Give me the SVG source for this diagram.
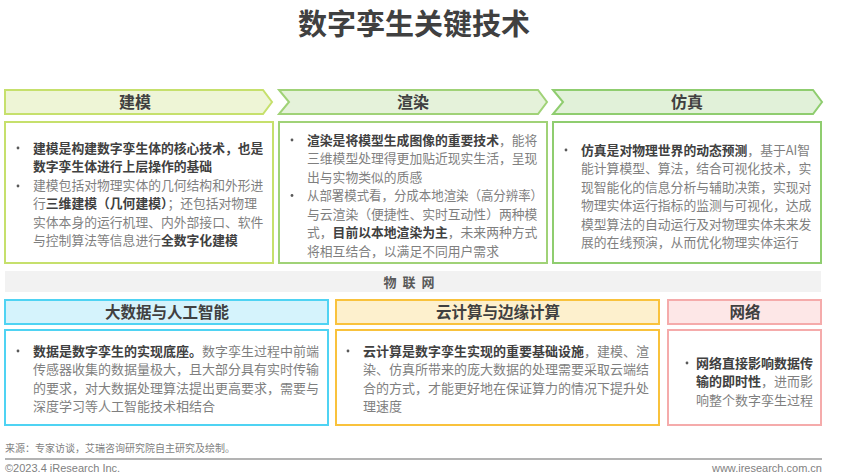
<svg xmlns="http://www.w3.org/2000/svg" width="841" height="475" viewBox="0 0 841 475">
<style>
text{font-family:"Noto Sans CJK SC","Noto Sans",sans-serif;}
.title{font-size:29px;font-weight:bold;fill:#404040;text-anchor:middle;}
.hd{font-size:16px;font-weight:bold;fill:#404040;text-anchor:middle;}
.hd2{font-size:15.5px;font-weight:bold;fill:#404040;text-anchor:middle;}
.t{font-size:12.8px;fill:#7f7f7f;}
.b{font-weight:bold;fill:#404040;}
.dot{fill:#595959;}
.ft{font-size:10px;fill:#7f7f7f;}
.fe{font-family:"Liberation Sans",sans-serif;font-size:11px;fill:#7f7f7f;}
.box{fill:#fff;stroke-width:2;}
</style>
<rect width="841" height="475" fill="#fff"/>
<text class="title" x="414" y="35">数字孪生关键技术</text>

<g id="modeling">
<path d="M5,90 L263,90 L272,102 L263,114 L5,114 Z" fill="#eef5d6" stroke="#c6e06c" stroke-width="2"/>
<text class="hd" x="135" y="108">建模</text>
<rect class="box" x="5" y="122" width="268" height="141" stroke="#c6e06c"/>
<circle class="dot" cx="18" cy="148" r="1.4"/>
<circle class="dot" cx="18" cy="186" r="1.4"/>
<text class="t" x="33" y="152.5"><tspan class="b">建模是构建数字孪生体的核心技术，也是</tspan></text>
<text class="t" x="33" y="171"><tspan class="b">数字孪生体进行上层操作的基础</tspan></text>
<text class="t" x="33" y="189.5">建模包括对物理实体的几何结构和外形进</text>
<text class="t" x="33" y="208">行<tspan class="b">三维建模（几何建模）</tspan>；还包括对物理</text>
<text class="t" x="33" y="226.5">实体本身的运行机理、内外部接口、软件</text>
<text class="t" x="33" y="245">与控制算法等信息进行<tspan class="b">全数字化建模</tspan></text>
</g>

<g id="rendering">
<path d="M279,90 L538,90 L547,102 L538,114 L279,114 L289,102 Z" fill="#e5f2da" stroke="#a0d277" stroke-width="2"/>
<text class="hd" x="413" y="108">渲染</text>
<rect class="box" x="279" y="122" width="268" height="141" stroke="#a0d277"/>
<circle class="dot" cx="292" cy="140" r="1.4"/>
<circle class="dot" cx="292" cy="195.5" r="1.4"/>
<text class="t" x="307" y="144.5"><tspan class="b">渲染是将模型生成图像的重要技术</tspan>，能将</text>
<text class="t" x="307" y="163">三维模型处理得更加贴近现实生活，呈现</text>
<text class="t" x="307" y="181.5">出与实物类似的质感</text>
<text class="t" x="307" y="200" textLength="236" lengthAdjust="spacingAndGlyphs">从部署模式看，分成本地渲染（高分辨率）</text>
<text class="t" x="307" y="218.5">与云渲染（便捷性、实时互动性）两种模</text>
<text class="t" x="307" y="237">式，<tspan class="b">目前以本地渲染为主</tspan>，未来两种方式</text>
<text class="t" x="307" y="255.5">将相互结合，以满足不同用户需求</text>
</g>

<g id="simulation">
<path d="M553,90 L813,90 L822,102 L813,114 L553,114 L563,102 Z" fill="#e1f1d9" stroke="#8fcd6f" stroke-width="2"/>
<text class="hd" x="687" y="108">仿真</text>
<rect class="box" x="553" y="122" width="268" height="141" stroke="#8fcd6f"/>
<circle class="dot" cx="566" cy="150" r="1.4"/>
<text class="t" x="581" y="154.5"><tspan class="b">仿真是对物理世界的动态预测</tspan>，基于AI智</text>
<text class="t" x="581" y="173">能计算模型、算法，结合可视化技术，实</text>
<text class="t" x="581" y="191.5">现智能化的信息分析与辅助决策，实现对</text>
<text class="t" x="581" y="210">物理实体运行指标的监测与可视化，达成</text>
<text class="t" x="581" y="228.5">模型算法的自动运行及对物理实体未来发</text>
<text class="t" x="581" y="247">展的在线预演，从而优化物理实体运行</text>
</g>

<g id="iot">
<rect x="5" y="271" width="816" height="21" fill="#f2f2f2"/>
<text x="412" y="287" style="font-size:13px;font-weight:bold;fill:#595959;text-anchor:middle;letter-spacing:6px">物联网</text>
</g>

<g id="bigdata-ai">
<rect x="5" y="300" width="323" height="24" fill="#d5f3fc" stroke="#4fd3f3" stroke-width="2"/>
<text class="hd2" x="167" y="318">大数据与人工智能</text>
<rect class="box" x="5" y="330" width="323" height="95" stroke="#4fd3f3"/>
<circle class="dot" cx="18" cy="351" r="1.4"/>
<text class="t" x="33" y="355.5" style="font-size:13px"><tspan class="b">数据是数字孪生的实现底座。</tspan>数字孪生过程中前端</text>
<text class="t" x="33" y="374" style="font-size:13px">传感器收集的数据量极大，且大部分具有实时传输</text>
<text class="t" x="33" y="392.5" style="font-size:13px">的要求，对大数据处理算法提出更高要求，需要与</text>
<text class="t" x="33" y="411" style="font-size:13px">深度学习等人工智能技术相结合</text>
</g>

<g id="cloud-edge">
<rect x="336" y="300" width="323" height="24" fill="#fdf0cd" stroke="#f9c23c" stroke-width="2"/>
<text class="hd2" x="498" y="318">云计算与边缘计算</text>
<rect class="box" x="336" y="330" width="323" height="95" stroke="#f9c23c"/>
<circle class="dot" cx="348" cy="351" r="1.4"/>
<text class="t" x="363" y="355.5" style="font-size:13px"><tspan class="b">云计算是数字孪生实现的重要基础设施</tspan>，建模、渲</text>
<text class="t" x="363" y="374" style="font-size:13px">染、仿真所带来的庞大数据的处理需要采取云端结</text>
<text class="t" x="363" y="392.5" style="font-size:13px">合的方式，才能更好地在保证算力的情况下提升处</text>
<text class="t" x="363" y="411" style="font-size:13px">理速度</text>
</g>

<g id="network">
<rect x="668" y="300" width="153" height="24" fill="#fde7e7" stroke="#f5abab" stroke-width="2"/>
<text class="hd2" x="745" y="318">网络</text>
<rect class="box" x="668" y="330" width="153" height="95" stroke="#f5abab"/>
<circle class="dot" cx="687" cy="363" r="1.4"/>
<text class="t" x="696" y="367.5" style="font-size:13px"><tspan class="b">网络直接影响数据传</tspan></text>
<text class="t" x="696" y="386" style="font-size:13px"><tspan class="b">输的即时性</tspan>，进而影</text>
<text class="t" x="696" y="404.5" style="font-size:13px">响整个数字孪生过程</text>
</g>

<g id="footer">
<text class="ft" x="5" y="452">来源：专家访谈，艾瑞咨询研究院自主研究及绘制。</text>
<line x1="5" y1="459" x2="822" y2="459" stroke="#b3b3b3" stroke-width="2"/>
<text class="fe" x="5" y="472">©2023.4 iResearch Inc.</text>
<text class="fe" x="822" y="472" text-anchor="end">www.iresearch.com.cn</text>
</g>
</svg>
